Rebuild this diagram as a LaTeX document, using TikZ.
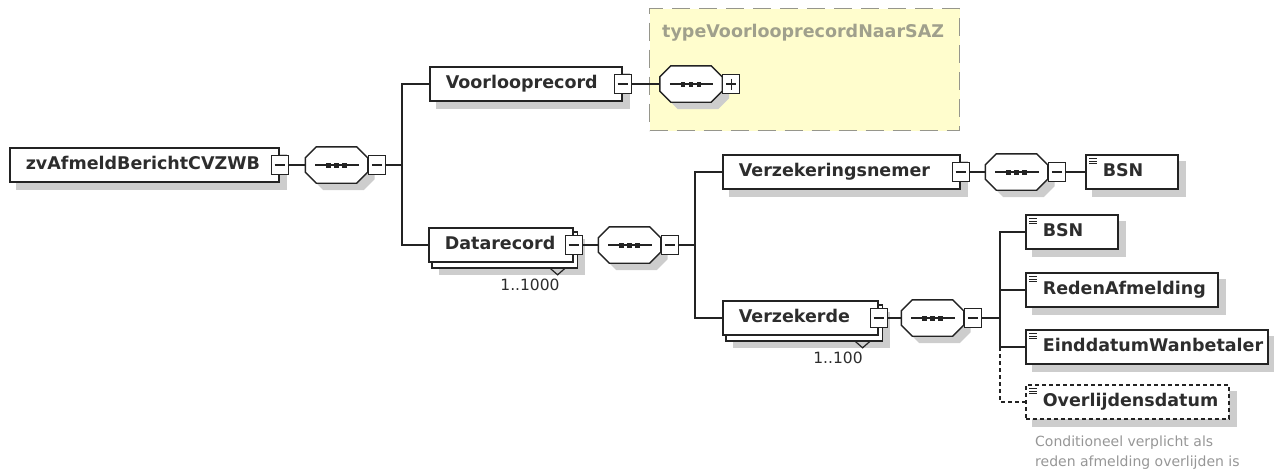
\documentclass[tikz,border=0pt]{standalone}
\usepackage{fontspec}
\setmainfont{DejaVu Sans}
\usetikzlibrary{calc,backgrounds}
\definecolor{linec}{RGB}{35,35,35}
\definecolor{txtc}{RGB}{45,45,45}
\definecolor{shadc}{RGB}{205,205,205}
\definecolor{yel}{RGB}{255,253,205}
\definecolor{yelb}{RGB}{150,150,140}
\definecolor{typec}{RGB}{160,160,140}
\definecolor{notec}{RGB}{150,150,150}
\tikzset{
 elem/.style={draw=linec, line width=1.6pt, fill=white, anchor=west, minimum height=34pt,
   inner xsep=0pt, inner ysep=0pt, text=txtc, font=\fontsize{17.5}{20}\selectfont\bfseries,
   text height=13pt, text depth=3.5pt},
 optelem/.style={elem, dash pattern=on 4pt off 3pt},
 seq/.style={minimum width=62pt, minimum height=36pt, inner sep=0pt},
 tog/.style={draw=linec, line width=1.2pt, fill=white, minimum width=17pt, minimum height=19pt, inner sep=0pt},
 minusbox/.style={tog, path picture={\draw[line width=1.2pt, linec]
   ($(path picture bounding box.west)+(3.5,0)$) -- ($(path picture bounding box.east)+(-3.5,0)$);}},
 plusbox/.style={tog, path picture={\draw[line width=1.2pt, linec]
   ($(path picture bounding box.west)+(3.5,0)$) -- ($(path picture bounding box.east)+(-3.5,0)$)
   ($(path picture bounding box.north)+(0,4)$) -- ($(path picture bounding box.south)+(0,-4)$);}},
 conn/.style={draw=linec, line width=1.3pt},
 card/.style={font=\fontsize{15.5}{18}\selectfont, text=txtc, inner sep=0pt},
}
\newcommand\lbl[3]{\hbox to #1pt{\hspace{#2pt}#3\hfil}}
\newcommand\octshape[4]{%
 \path[#4] ($(#1.north west)+(11+#2,#3)$) -- ($(#1.north east)+(-11+#2,#3)$)
  -- ($(#1.north east)+(#2,11+#3)$) -- ($(#1.south east)+(#2,-11+#3)$)
  -- ($(#1.south east)+(-11+#2,#3)$) -- ($(#1.south west)+(11+#2,#3)$)
  -- ($(#1.south west)+(#2,-11+#3)$) -- ($(#1.north west)+(#2,11+#3)$) -- cycle;}
\newcommand\octdots[1]{%
 \draw[linec, line width=1.3pt] ($(#1.west)+(10,0)$) -- ($(#1.east)+(-9,0)$);
 \foreach \d in {-8,0,8} {\fill[linec] ($(#1.center)+(\d-2.2,-2.5)$) rectangle ++(4.4,5);}}
\newcommand\leaficon[1]{%
 \draw[linec, line width=1pt] ($(#1.north west)+(4,4)$) -- ++(8,0)
  ($(#1.north west)+(4,6.8)$) -- ++(8,0) ($(#1.north west)+(4,9.6)$) -- ++(8,0);}
\begin{document}
\begin{tikzpicture}[x=1pt,y=-1pt]
\useasboundingbox (0,0) rectangle (1274,474);
% elements
\node[elem] (root) at (9,165) {\lbl{269}{16}{zvAfmeldBerichtCVZWB}};
\node[minusbox] (rootm) at (root.east) {};
\node[seq] (seq1) at (336.5,165) {};
\node[minusbox, anchor=west] (seq1m) at (seq1.east) {};
\coordinate (b1) at (402,165);
\node[elem] (voor) at (429,84) {\lbl{192}{16}{Voorlooprecord}};
\node[minusbox] (voorm) at (voor.east) {};
\node[seq] (seq2) at (691,84) {};
\node[plusbox, anchor=west] (seq2p) at (seq2.east) {};
\node[elem] (data) at (428,245) {\lbl{144}{16}{Datarecord}};
\node[minusbox] (datam) at (data.east) {};
\node[card] (card1) at (530,285) {1..1000};
\node[seq] (seq3) at (629.5,245) {};
\node[minusbox, anchor=west] (seq3m) at (seq3.east) {};
\coordinate (b2) at (695,245);
\node[elem] (vnem) at (722,172) {\lbl{237}{16}{Verzekeringsnemer}};
\node[minusbox] (vnemm) at (vnem.east) {};
\node[seq] (seq4) at (1016.5,172) {};
\node[minusbox, anchor=west] (seq4m) at (seq4.east) {};
\node[elem] (bsn1) at (1085,172) {\lbl{92}{17}{BSN}};
\node[elem] (verz) at (722,318) {\lbl{155}{16}{Verzekerde}};
\node[minusbox] (verzm) at (verz.east) {};
\node[card] (card2) at (838,358) {1..100};
\node[seq] (seq5) at (932.5,318) {};
\node[minusbox, anchor=west] (seq5m) at (seq5.east) {};
\coordinate (b3) at (1000,318);
\node[elem] (bsn2) at (1025,232) {\lbl{92}{17}{BSN}};
\node[elem] (reden) at (1025,290) {\lbl{192}{17}{RedenAfmelding}};
\node[elem] (eind) at (1025,347) {\lbl{242}{17}{EinddatumWanbetaler}};
\node[optelem] (overl) at (1025,402) {\lbl{203}{17}{Overlijdensdatum}};
\node[anchor=north west, inner sep=0pt, align=left, text=notec,
  font=\fontsize{14}{20}\selectfont] (note) at (1035,436)
  {Conditioneel verplicht als\\reden afmelding overlijden is};
\foreach \n in {bsn1,bsn2,reden,eind,overl} {\leaficon{\n}}
% background: type box, shadows, stacked copies
\begin{scope}[on background layer]
 \node[draw=yelb, fill=yel, dash pattern=on 18pt off 9pt, line width=1.2pt,
   minimum width=310pt, minimum height=122pt, anchor=north west, inner sep=0pt] (typebox) at (649,8) {};
 \node[anchor=west, inner sep=0pt, text=typec, font=\fontsize{17.5}{20}\selectfont\bfseries]
   (typelbl) at (662,33) {typeVoorlooprecordNaarSAZ};
 \foreach \n in {root,voor,vnem,bsn1,bsn2,reden,eind,overl}
  {\fill[shadc] ($(\n.north west)+(7,7)$) rectangle ($(\n.south east)+(7,7)$);}
 \foreach \n in {data,verz}
  {\fill[shadc] ($(\n.north west)+(11,12)$) rectangle ($(\n.south east)+(11,12)$);
   \draw[linec, line width=1.6pt, fill=white] ($(\n.north west)+(4,5)$) rectangle ($(\n.south east)+(4,5)$);
   \draw[linec, line width=1.2pt] ($(\n.south east)+(-24,5)$) -- ++(8,7) -- ++(8,-7);}
 \foreach \n in {seq1,seq2,seq3,seq4,seq5} {\octshape{\n}{7}{7}{fill=shadc}}
\end{scope}
% octagons
\foreach \n in {seq1,seq2,seq3,seq4,seq5} {\octshape{\n}{0}{0}{draw=linec, line width=1.4pt, fill=white} \octdots{\n}}
% connectors
\draw[conn] (rootm.east) -- (seq1.west);
\draw[conn] (seq1m.east) -- (b1);
\draw[conn] (b1) |- (voor.west);
\draw[conn] (b1) |- (data.west);
\draw[conn] (voorm.east) -- (seq2.west);
\draw[conn] (datam.east) -- (seq3.west);
\draw[conn] (seq3m.east) -- (b2);
\draw[conn] (b2) |- (vnem.west);
\draw[conn] (b2) |- (verz.west);
\draw[conn] (vnemm.east) -- (seq4.west);
\draw[conn] (seq4m.east) -- (bsn1.west);
\draw[conn] (verzm.east) -- (seq5.west);
\draw[conn] (seq5m.east) -- (b3);
\draw[conn] (b3) |- (bsn2.west);
\draw[conn] (b3) |- (reden.west);
\draw[conn] (b3) |- (eind.west);
\coordinate (b3e) at (b3 |- eind.west);
\draw[conn, dash pattern=on 4pt off 3pt] (b3e) |- (overl.west);
\end{tikzpicture}
\end{document}
